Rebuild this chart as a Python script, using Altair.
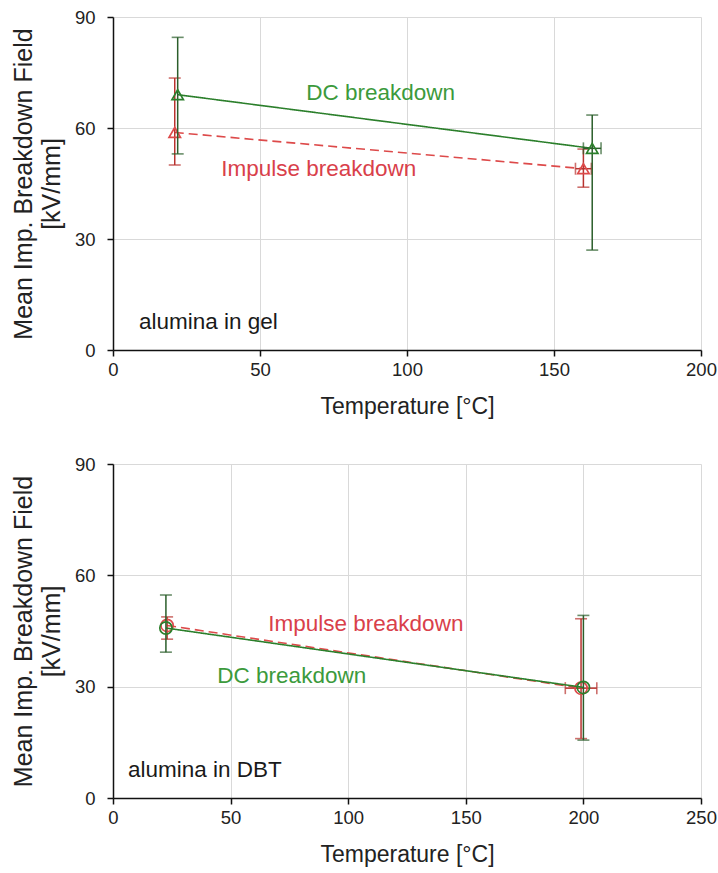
import altair as alt
import pandas as pd

# ---------------- data ----------------
# Panel 1: alumina in gel
gel_dc_T = [22.0, 163.0]
gel_dc_V = [69.0, 54.5]
gel_dc_lo = [53.0, 27.0]
gel_dc_hi = [84.5, 63.5]
gel_dc_xerr = [0.0, 3.0]

gel_imp_T = [21.0, 160.0]
gel_imp_V = [58.8, 49.0]
gel_imp_lo = [50.0, 44.0]
gel_imp_hi = [73.5, 54.3]
gel_imp_xerr = [0.0, 2.7]

# Panel 2: alumina in DBT
dbt_dc_T = [22.5, 200.0]
dbt_dc_V = [45.8, 29.8]
dbt_dc_lo = [39.3, 15.6]
dbt_dc_hi = [54.7, 49.2]
dbt_dc_xerr = [0.0, 0.0]

dbt_imp_T = [23.0, 199.0]
dbt_imp_V = [46.5, 29.6]
dbt_imp_lo = [42.8, 16.0]
dbt_imp_hi = [48.8, 48.3]
dbt_imp_xerr = [0.0, 6.7]

gel_xticks = [0, 50, 100, 150, 200]
dbt_xticks = [0, 50, 100, 150, 200, 250]
y_ticks = [0, 30, 60, 90]

gel_notes = ["DC breakdown", "Impulse breakdown"]
gel_note_T = [91.0, 70.0]
gel_note_V = [69.5, 49.0]
dbt_notes = ["Impulse breakdown", "DC breakdown"]
dbt_note_T = [107.5, 76.0]
dbt_note_V = [46.8, 33.0]

gel_sample = "alumina in gel"
dbt_sample = "alumina in DBT"

# ---------------- style ----------------
FONT = "Liberation Sans"
DC_LINE = "#2b7f2b"
DC_ERR = "#2b5e2b"
DC_TEXT = "#3c9a3c"
IMP_LINE = "#dd4a4a"
IMP_ERR = "#b8332f"
IMP_TEXT = "#d9404a"


def series_df(T, V, lo, hi, xerr):
    return pd.DataFrame({
        "T": T, "V": V, "lo": lo, "hi": hi,
        "xlo": [t - e for t, e in zip(T, xerr)],
        "xhi": [t + e for t, e in zip(T, xerr)],
        "xerr": xerr,
    })


def panel(dc, imp, shape, msize, xmax, xticks, notes, note_T, note_V,
          note_colors, sample, sample_px, height):
    xscale = alt.Scale(domain=[0, xmax], nice=False, zero=False)
    yscale = alt.Scale(domain=[0, 90], nice=False)
    xaxis = alt.Axis(values=xticks, title="Temperature [°C]")
    yaxis = alt.Axis(values=y_ticks,
                     title=["Mean Imp. Breakdown Field", "[kV/mm]"])

    def X(f):
        return alt.X(f"{f}:Q", scale=xscale, axis=xaxis)

    def Y(f):
        return alt.Y(f"{f}:Q", scale=yscale, axis=yaxis)

    layers = []
    for df, line_c, err_c, dash in [(imp, IMP_LINE, IMP_ERR, [9, 5]),
                                    (dc, DC_LINE, DC_ERR, [1, 0])]:
        base = alt.Chart(df)
        layers.append(base.mark_line(color=line_c, strokeWidth=1.6,
                                     strokeDash=dash).encode(x=X("T"), y=Y("V")))
        layers.append(base.mark_rule(color=err_c, strokeWidth=1.5).encode(
            x=X("T"), y=Y("lo"), y2="hi"))
        layers.append(base.mark_tick(color=err_c, orient="horizontal", size=12,
                                     thickness=1.6).encode(x=X("T"), y=Y("lo")))
        layers.append(base.mark_tick(color=err_c, orient="horizontal", size=12,
                                     thickness=1.6).encode(x=X("T"), y=Y("hi")))
        hb = base.transform_filter("datum.xerr > 0")
        layers.append(hb.mark_rule(color=err_c, strokeWidth=1.5).encode(
            x=X("xlo"), x2="xhi", y=Y("V")))
        layers.append(hb.mark_tick(color=err_c, orient="vertical", size=12,
                                   thickness=1.6).encode(x=X("xlo"), y=Y("V")))
        layers.append(hb.mark_tick(color=err_c, orient="vertical", size=12,
                                   thickness=1.6).encode(x=X("xhi"), y=Y("V")))
        layers.append(base.mark_point(shape=shape, filled=False, size=msize,
                                      strokeWidth=1.7, color=line_c,
                                      opacity=1).encode(x=X("T"), y=Y("V")))

    notes_df = pd.DataFrame({"text": notes, "T": note_T, "V": note_V,
                             "c": note_colors})
    layers.append(alt.Chart(notes_df).mark_text(
        font=FONT, fontSize=22.5, align="center", baseline="middle").encode(
        x=X("T"), y=Y("V"), text="text:N",
        color=alt.Color("c:N", scale=None)))

    sample_df = pd.DataFrame({"text": [sample]})
    layers.append(alt.Chart(sample_df).mark_text(
        font=FONT, fontSize=22.5, align="left", baseline="middle",
        color="#1a1a1a").encode(
        x=alt.value(sample_px), y=alt.value(height - 28), text="text:N"))

    return alt.layer(*layers).properties(width=588, height=height)


gel = panel(series_df(gel_dc_T, gel_dc_V, gel_dc_lo, gel_dc_hi, gel_dc_xerr),
            series_df(gel_imp_T, gel_imp_V, gel_imp_lo, gel_imp_hi, gel_imp_xerr),
            "triangle-up", 130, 200, gel_xticks, gel_notes, gel_note_T,
            gel_note_V, [DC_TEXT, IMP_TEXT], gel_sample, 26, 333)

dbt = panel(series_df(dbt_dc_T, dbt_dc_V, dbt_dc_lo, dbt_dc_hi, dbt_dc_xerr),
            series_df(dbt_imp_T, dbt_imp_V, dbt_imp_lo, dbt_imp_hi, dbt_imp_xerr),
            "circle", 150, 250, dbt_xticks, dbt_notes, dbt_note_T,
            dbt_note_V, [IMP_TEXT, DC_TEXT], dbt_sample, 15, 334)

chart = alt.vconcat(gel, dbt, spacing=36).properties(
    padding={"left": 11, "top": 8, "right": 0, "bottom": 2},
    background="white",
).configure_view(stroke=None).configure_axis(
    grid=True, gridColor="#d9d9d9", gridWidth=1,
    domainColor="#111111", domainWidth=1.5,
    tickColor="#111111", tickWidth=1.5, tickSize=6,
    labelFont=FONT, labelFontSize=18.5, labelColor="#222222",
    titleFont=FONT, titleFontSize=23, titleFontWeight="normal",
    titleColor="#222222",
).configure_axisY(
    labelPadding=12, titlePadding=10, titleLineHeight=28, titleFontSize=25,
).configure_axisX(
    labelPadding=4, titlePadding=17, labelFlush=False,
)

chart.save("out.html", embed_options={"renderer": "svg", "actions": False})
